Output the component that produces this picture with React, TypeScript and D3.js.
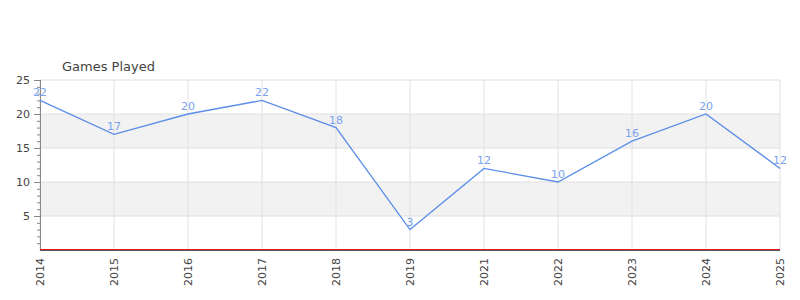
import React from "react";
import * as d3 from "d3";

const categories = ["2014", "2015", "2016", "2017", "2018", "2019", "2021", "2022", "2023", "2024", "2025"];
const gamesPlayed = [22, 17, 20, 22, 18, 3, 12, 10, 16, 20, 12];
const yTicks = [5, 10, 15, 20, 25];
const bands = [[5, 10], [15, 20]];
const title = "Games Played";

export default function App() {
  const W = 800, H = 300;
  const left = 40, right = 780, top = 80, bottom = 250;
  const x = d3.scalePoint<string>().domain(categories).range([left, right]);
  const y = d3.scaleLinear().domain([0, 25]).range([bottom, top]);
  const line = d3.line<number>().x((_, i) => x(categories[i])!).y((d) => y(d));
  const minor = d3.range(1, 25).filter((v) => v % 5 !== 0);
  const font = "DejaVu Sans, sans-serif";
  return (
    <svg width={W} height={H} style={{ position: "absolute", left: 0, top: 0, fontFamily: font }}>
      <rect x={0} y={0} width={W} height={H} fill="#fff" />
      {bands.map(([a, b], i) => (
        <rect key={i} x={left} y={y(b)} width={right - left} height={y(a) - y(b)} fill="#f2f2f2" />
      ))}
      {yTicks.map((t) => (
        <line key={t} x1={left} x2={right} y1={y(t)} y2={y(t)} stroke="#e0e0e0" strokeWidth={1} />
      ))}
      {categories.map((c) => (
        <line key={c} x1={x(c)} x2={x(c)} y1={top} y2={bottom} stroke="#e0e0e0" strokeWidth={1} />
      ))}
      {minor.map((v) => (
        <line key={v} x1={left - 3} x2={left} y1={y(v) + 0.5} y2={y(v) + 0.5} stroke="#888" strokeWidth={1} />
      ))}
      {yTicks.map((t) => (
        <g key={t}>
          <line x1={left - 6} x2={left} y1={y(t) + 0.5} y2={y(t) + 0.5} stroke="#888" strokeWidth={1} />
          <text x={left - 10} y={y(t)} dy="0.35em" textAnchor="end" fontSize={11} fill="#444">{t}</text>
        </g>
      ))}
      <line x1={left + 0.5} x2={left + 0.5} y1={top} y2={bottom} stroke="#888" strokeWidth={1} />
      <line x1={left} x2={right} y1={bottom + 0.5} y2={bottom + 0.5} stroke="#555" strokeWidth={1} />
      <line x1={left} x2={right} y1={bottom - 0.5} y2={bottom - 0.5} stroke="#e02020" strokeWidth={1.2} />
      {categories.map((c) => (
        <text key={c} transform={`translate(${x(c)! + 4},${bottom + 8}) rotate(-90)`} textAnchor="end" fontSize={11} fill="#444">{c}</text>
      ))}
      <path d={line(gamesPlayed) || ""} fill="none" stroke="#5a8ee8" strokeWidth={1.3} />
      {gamesPlayed.map((v, i) => (
        <text key={i} x={x(categories[i])} y={y(v) - 4} textAnchor="middle" fontSize={11} fill="#7aa2ee">{v}</text>
      ))}
      <text x={62} y={71} fontSize={13} fill="#444">{title}</text>
    </svg>
  );
}
